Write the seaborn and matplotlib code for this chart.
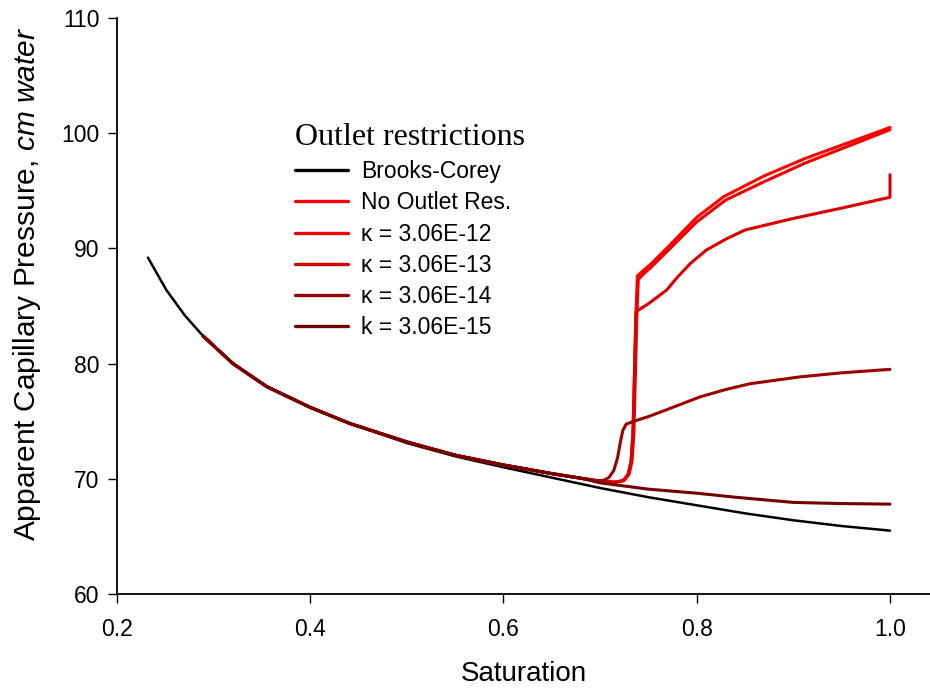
import numpy as np
import pandas as pd
import matplotlib
matplotlib.use("Agg")
import matplotlib.pyplot as plt
import seaborn as sns

# Saturation / apparent capillary pressure (cm water) for each outlet condition
bc_x = [0.232, 0.251, 0.27, 0.289, 0.32, 0.355, 0.40, 0.441, 0.50, 0.55, 0.60,
        0.65, 0.70, 0.75, 0.80, 0.85, 0.90, 0.95, 1.00]
bc_y = [89.2, 86.4, 84.2, 82.4, 80.0, 78.0, 76.2, 74.8, 73.1, 71.95, 71.0,
        70.1, 69.2, 68.4, 67.7, 67.0, 66.4, 65.9, 65.5]

# common early drainage branch of the simulated curves
early_x = [0.289, 0.32, 0.355, 0.40, 0.441, 0.50, 0.55, 0.60, 0.65, 0.68]
early_y = [82.4, 80.0, 78.0, 76.2, 74.8, 73.2, 72.05, 71.2, 70.45, 70.05]

noout_x = [0.70, 0.715, 0.724, 0.729, 0.732, 0.734, 0.7355, 0.737, 0.7385,
           0.745, 0.752, 0.77, 0.80, 0.828, 0.87, 0.912, 1.0]
noout_y = [69.8, 69.7, 69.85, 70.4, 71.5, 74.0, 79.0, 84.0, 87.6,
           88.1, 88.6, 90.1, 92.7, 94.5, 96.3, 97.8, 100.5]

k12_x = [0.70, 0.716, 0.725, 0.730, 0.733, 0.735, 0.7365, 0.738, 0.7395,
         0.745, 0.752, 0.77, 0.80, 0.83, 0.87, 0.912, 1.0]
k12_y = [69.8, 69.7, 69.85, 70.4, 71.5, 74.0, 79.0, 84.0, 87.3,
         87.8, 88.3, 89.8, 92.3, 94.2, 95.8, 97.4, 100.3]

k13_x = [0.70, 0.715, 0.724, 0.729, 0.732, 0.734, 0.7355, 0.737, 0.75, 0.769,
         0.78, 0.7935, 0.81, 0.83, 0.85, 0.90, 0.95, 1.0, 1.0]
k13_y = [69.8, 69.7, 69.85, 70.4, 71.5, 74.0, 79.0, 84.5, 85.2, 86.4,
         87.5, 88.7, 89.86, 90.8, 91.6, 92.6, 93.5, 94.44, 96.4]

k14_x = [0.695, 0.703, 0.709, 0.714, 0.718, 0.721, 0.7235, 0.727, 0.735, 0.75,
         0.769, 0.803, 0.83, 0.855, 0.907, 0.95, 1.0]
k14_y = [69.85, 69.85, 70.1, 70.7, 71.8, 73.2, 74.2, 74.75, 75.0, 75.4,
         76.0, 77.1, 77.75, 78.25, 78.85, 79.2, 79.5]

k15_x = [0.70, 0.75, 0.80, 0.84, 0.90, 0.95, 1.0]
k15_y = [69.65, 69.1, 68.75, 68.4, 67.95, 67.85, 67.8]

labels = ["Brooks-Corey", "No Outlet Res.", "\u03ba = 3.06E-12",
          "\u03ba = 3.06E-13", "\u03ba = 3.06E-14", "k = 3.06E-15"]
colors = ["#000000", "#ff0000", "#ee0000", "#d80000", "#990000", "#720000"]

series = [
    (bc_x, bc_y),
    (early_x + noout_x, early_y + noout_y),
    (early_x + k12_x, early_y + k12_y),
    (early_x + k13_x, early_y + k13_y),
    (early_x + k14_x, early_y + k14_y),
    (early_x + k15_x, early_y + k15_y),
]

frames = []
for lab, (xs, ys) in zip(labels, series):
    frames.append(pd.DataFrame({"Saturation": xs, "Pc": ys, "case": lab,
                                "order": np.arange(len(xs))}))
df = pd.concat(frames, ignore_index=True)

sns.set_theme(style="ticks")
plt.rcParams["font.family"] = ["Liberation Sans", "DejaVu Sans"]
plt.rcParams["mathtext.fontset"] = "custom"
plt.rcParams["mathtext.rm"] = "Liberation Sans"
plt.rcParams["mathtext.it"] = "Liberation Sans:italic"
plt.rcParams["text.color"] = "black"
plt.rcParams["axes.labelcolor"] = "black"

fig = plt.figure(figsize=(9.30, 6.88), dpi=100)
ax = fig.add_axes([117 / 930, 1 - 594 / 688, 1 - 117 / 930, (594 - 18) / 688])

sns.lineplot(data=df, x="Saturation", y="Pc", hue="case", hue_order=labels,
             palette=dict(zip(labels, colors)), sort=False, estimator=None,
             units="case", ax=ax, linewidth=2.2)
for line, lab in zip(ax.get_lines(), labels):
    if lab == "Brooks-Corey":
        line.set_linewidth(1.8)

ax.set_xlim(0.2, 1.0414)
ax.set_ylim(60, 110)
ax.set_xticks([0.2, 0.4, 0.6, 0.8, 1.0])
ax.set_xticklabels(["0.2", "0.4", "0.6", "0.8", "1.0"])
ax.set_yticks([60, 70, 80, 90, 100, 110])
sns.despine(ax=ax)
for sp in ("left", "bottom"):
    ax.spines[sp].set_linewidth(1.3)
    ax.spines[sp].set_color("black")
ax.tick_params(direction="out", length=6.5, width=1.0, colors="black",
               labelcolor="black", labelsize=16.5, pad=6)
ax.tick_params(axis="x", pad=11)

ax.set_xlabel("Saturation", fontsize=20, labelpad=14)
ax.set_ylabel("Apparent Capillary Pressure, $\\it{cm\\ water}$", fontsize=21.5)
ax.yaxis.set_label_coords(-0.091, 0.538)

handles, _ = ax.get_legend_handles_labels()
leg = ax.legend(handles[-6:], labels, loc="upper left",
                bbox_to_anchor=(288 / 930, 1 - 116 / 688),
                bbox_transform=fig.transFigure, frameon=False,
                fontsize=16.5, handlelength=2.3, handletextpad=0.6,
                labelspacing=0.36, borderpad=0.3, borderaxespad=0,
                title="Outlet restrictions",
                title_fontproperties={"family": "Liberation Serif", "size": 23})
leg._legend_box.align = "left"
for h in leg.get_lines():
    h.set_linewidth(2.4)

fig.savefig("out.png", dpi=100)
